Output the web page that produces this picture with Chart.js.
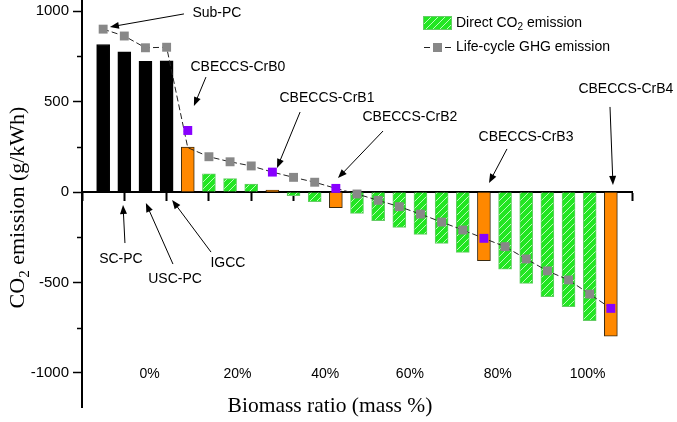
<!DOCTYPE html>
<html>
<head>
<meta charset="utf-8">
<script src="https://cdn.jsdelivr.net/npm/chart.js@4.4.1/dist/chart.umd.min.js"></script>
<style>
  html, body { margin: 0; padding: 0; background: #fff; }
  #wrap { width: 677px; height: 422px; }
</style>
</head>
<body>
<div id="wrap"><canvas id="chart"></canvas></div>
<script>
// cases along the x axis (one bar each)
const caseNames = ['Sub-PC', 'SC-PC', 'USC-PC', 'IGCC', 'CBECCS-CrB0', 'B5', 'B6', 'B7', 'CBECCS-CrB1',
  'B9', 'B10', 'CBECCS-CrB2', 'B12', 'B13', 'B14', 'B15', 'B16', 'B17', 'CBECCS-CrB3',
  'B19', 'B20', 'B21', 'B22', 'B23', 'CBECCS-CrB4'];

// direct CO2 emission (g/kWh), bars
const directCO2 = [815, 775, 722, 725, 248, 100, 74, 44, 11, -20, -54, -87, -118, -158, -195,
  -234, -284, -334, -379, -427, -505, -578, -634, -711, -796];

// life-cycle GHG emission (g/kWh), dashed line
const lifeCycleGHG = [900, 862, 797, 800, 245, 195, 167, 144, 110, 81, 54, 20, -11, -46, -81,
  -122, -166, -210, -256, -302, -370, -436, -486, -564, -643];

// life-cycle GHG of the CBECCS cases (purple squares)
const cbeccsGHG = [null, null, null, null, 340, null, null, null, 110, null, null, 20, null, null, null,
  null, null, null, -256, null, null, null, null, null, -643];

// y axis ticks (labelled every 500)
const yTickValues = [-1000, -750, -500, -250, 0, 250, 500, 750, 1000];

// biomass ratio labels along the bottom and where they sit (in case units)
const biomassLabels = ['0%', '20%', '40%', '60%', '80%', '100%'];
const biomassLabelPos = [2.2, 6.35, 10.5, 14.5, 18.65, 22.9];

// callouts: text centre, arrow start, arrow tip (case index, g/kWh)
const callouts = [
  { text: 'Sub-PC', at: [5.38, 989], from: [3.82, 984], to: [0.32, 912] },
  { text: 'CBECCS-CrB0', at: [6.37, 691], from: [4.86, 635], to: [4.29, 475] },
  { text: 'CBECCS-CrB1', at: [10.58, 519], from: [9.31, 442], to: [8.22, 133] },
  { text: 'CBECCS-CrB2', at: [14.5, 414], from: [13.23, 337], to: [11.1, 77] },
  { text: 'CBECCS-CrB3', at: [19.99, 304], from: [19.09, 238], to: [18.24, 50] },
  { text: 'CBECCS-CrB4', at: [24.71, 569], from: [23.96, 470], to: [24.1, 39] },
  { text: 'SC-PC', at: [0.84, -370], from: [1.03, -282], to: [0.94, -72] },
  { text: 'USC-PC', at: [3.4, -481], from: [3.3, -398], to: [2.02, -61] },
  { text: 'IGCC', at: [5.9, -392], from: [5.1, -332], to: [3.26, -44] }
];

const SANS = 'Liberation Sans, Arial, sans-serif';
const SERIF = 'Liberation Serif, Times New Roman, serif';

function makeHatch() {
  const c = document.createElement('canvas');
  c.width = 7; c.height = 7;
  const g = c.getContext('2d');
  g.fillStyle = '#22e622';
  g.fillRect(0, 0, 7, 7);
  g.strokeStyle = 'rgba(210,255,210,0.85)';
  g.lineWidth = 1;
  g.beginPath();
  g.moveTo(0, 7); g.lineTo(7, 0);
  g.moveTo(-1, 1); g.lineTo(1, -1);
  g.moveTo(6, 8); g.lineTo(8, 6);
  g.stroke();
  return g.createPattern(c, 'repeat');
}
const hatch = makeHatch();

const kind = caseNames.map((n, i) => i < 4 ? 'coal' : n.startsWith('CBECCS') ? 'cbeccs' : 'cofire');
const barFill = kind.map(k => k === 'coal' ? '#000' : k === 'cbeccs' ? '#ff8800' : hatch);
const barEdge = kind.map(k => k === 'coal' ? '#000' : k === 'cbeccs' ? '#3a2a10' : '#66cc66');

const xy = arr => arr.map((v, i) => ({ x: i, y: v }));

// draw text made of pieces, some subscripted
function drawParts(ctx, parts, x, y, size, family, align) {
  const subSize = Math.round(size * 0.7);
  const widths = parts.map(p => {
    ctx.font = (p.sub ? subSize : size) + 'px ' + family;
    return ctx.measureText(p.t).width;
  });
  const total = widths.reduce((a, b) => a + b, 0);
  let cx = align === 'center' ? x - total / 2 : x;
  ctx.textBaseline = 'middle';
  ctx.textAlign = 'left';
  parts.forEach((p, i) => {
    ctx.font = (p.sub ? subSize : size) + 'px ' + family;
    ctx.fillText(p.t, cx, p.sub ? y + size * 0.3 : y);
    cx += widths[i];
  });
}

function arrow(ctx, x1, y1, x2, y2) {
  const a = Math.atan2(y2 - y1, x2 - x1);
  const len = 9, half = 3.5;
  ctx.beginPath();
  ctx.moveTo(x1, y1);
  ctx.lineTo(x2 - Math.cos(a) * len * 0.8, y2 - Math.sin(a) * len * 0.8);
  ctx.stroke();
  ctx.beginPath();
  ctx.moveTo(x2, y2);
  ctx.lineTo(x2 - Math.cos(a) * len + Math.sin(a) * half, y2 - Math.sin(a) * len - Math.cos(a) * half);
  ctx.lineTo(x2 - Math.cos(a) * len - Math.sin(a) * half, y2 - Math.sin(a) * len + Math.cos(a) * half);
  ctx.closePath();
  ctx.fill();
}

const extras = {
  id: 'extras',
  afterDraw(chart) {
    const { ctx, chartArea, scales: { x, y } } = chart;
    ctx.save();
    ctx.fillStyle = '#000';
    ctx.strokeStyle = '#000';

    // minor ticks on the y axis
    ctx.lineWidth = 1.5;
    y.ticks.forEach(t => {
      if (t.value % 500 === 0) return;
      const py = Math.round(y.getPixelForValue(t.value)) + 0.5;
      ctx.beginPath();
      ctx.moveTo(chartArea.left - 5, py);
      ctx.lineTo(chartArea.left, py);
      ctx.stroke();
    });

    // biomass ratio labels
    ctx.font = '14px ' + SANS;
    ctx.textAlign = 'center';
    ctx.textBaseline = 'middle';
    biomassLabels.forEach((lab, i) => {
      ctx.fillText(lab, x.getPixelForValue(biomassLabelPos[i]), y.getPixelForValue(-1000) + 1);
    });

    // axis titles
    drawParts(ctx, [{ t: 'Biomass ratio (mass %)' }], chartArea.left + 248,
      chartArea.bottom - 1, 21.5, SERIF, 'center');
    ctx.save();
    ctx.translate(18, (chartArea.top + chartArea.bottom) / 2 + 4);
    ctx.rotate(-Math.PI / 2);
    drawParts(ctx, [{ t: 'CO' }, { t: '2', sub: true }, { t: ' emission (g/kWh)' }], 0, 0, 22, SERIF, 'center');
    ctx.restore();

    // callouts
    ctx.lineWidth = 1;
    callouts.forEach(c => {
      ctx.font = '14px ' + SANS;
      ctx.textAlign = 'center';
      ctx.textBaseline = 'middle';
      ctx.fillText(c.text, x.getPixelForValue(c.at[0]), y.getPixelForValue(c.at[1]));
      arrow(ctx, x.getPixelForValue(c.from[0]), y.getPixelForValue(c.from[1]),
        x.getPixelForValue(c.to[0]), y.getPixelForValue(c.to[1]));
    });

    // legend
    const lx = 423, ly1 = 23, ly2 = 47;
    ctx.fillStyle = hatch;
    ctx.fillRect(lx, ly1 - 7, 29, 14);
    ctx.strokeStyle = '#66cc66';
    ctx.strokeRect(lx + 0.5, ly1 - 6.5, 28, 13);
    ctx.fillStyle = '#000';
    drawParts(ctx, [{ t: 'Direct CO' }, { t: '2', sub: true }, { t: ' emission' }], lx + 33, ly1, 14, SANS, 'left');
    ctx.strokeStyle = '#222';
    ctx.beginPath();
    ctx.moveTo(lx + 1, ly2 + 0.5); ctx.lineTo(lx + 7, ly2 + 0.5);
    ctx.moveTo(lx + 22, ly2 + 0.5); ctx.lineTo(lx + 28, ly2 + 0.5);
    ctx.stroke();
    ctx.fillStyle = '#888';
    ctx.fillRect(lx + 10, ly2 - 4, 9, 9);
    ctx.fillStyle = '#000';
    drawParts(ctx, [{ t: 'Life-cycle GHG emission' }], lx + 33, ly2, 14, SANS, 'left');
    ctx.restore();
  }
};

new Chart('chart', {
  data: {
    datasets: [{
      type: 'line',
      label: 'CBECCS',
      data: xy(cbeccsGHG),
      showLine: false,
      pointStyle: 'rect',
      pointRadius: 6.3,
      pointBackgroundColor: '#8800ff',
      pointBorderColor: '#8800ff',
      pointBorderWidth: 0,
      order: 1
    }, {
      type: 'line',
      label: 'Life-cycle GHG emission',
      data: xy(lifeCycleGHG),
      borderColor: '#222',
      borderWidth: 1,
      borderDash: [6, 3],
      pointStyle: 'rect',
      pointRadius: ctx => cbeccsGHG[ctx.dataIndex] == null ? 6.3 : 0,
      pointBackgroundColor: '#888',
      pointBorderColor: '#888',
      pointBorderWidth: 0,
      order: 2
    }, {
      type: 'bar',
      label: 'Direct CO2 emission',
      data: xy(directCO2),
      backgroundColor: barFill,
      borderColor: barEdge,
      borderWidth: 1,
      barThickness: 13,
      order: 3
    }]
  },
  options: {
    responsive: true,
    maintainAspectRatio: false,
    animation: false,
    devicePixelRatio: 1,
    layout: { autoPadding: false, padding: { left: 0, top: 0, right: 45, bottom: 15 } },
    plugins: { legend: { display: false }, tooltip: { enabled: false } },
    scales: {
      x: {
        type: 'linear',
        min: -1,
        max: 25,
        offset: false,
        position: { y: 0 },
        z: 1,
        border: { color: '#000', width: 2 },
        grid: { drawOnChartArea: false, offset: false, tickLength: 8, tickWidth: 2, tickColor: '#000' },
        ticks: { display: false, stepSize: 2, includeBounds: false },
        afterFit: s => { s.paddingLeft = 0; s.paddingRight = 0; }
      },
      y: {
        type: 'linear',
        min: -1188,
        max: 1061,
        border: { color: '#000', width: 2 },
        grid: {
          drawOnChartArea: false,
          tickLength: 9,
          tickWidth: 1.5,
          tickColor: ctx => ctx.tick && ctx.tick.value % 500 === 0 ? '#000' : 'rgba(0,0,0,0)'
        },
        ticks: {
          padding: 4,
          color: '#000',
          font: { family: SANS, size: 15 },
          callback: v => v % 500 === 0 ? v : ''
        },
        afterBuildTicks: s => { s.ticks = yTickValues.map(v => ({ value: v })); },
        afterFit: s => { s.width = 82; s.paddingTop = 0; s.paddingBottom = 0; }
      }
    }
  },
  plugins: [extras]
});
</script>
</body>
</html>
